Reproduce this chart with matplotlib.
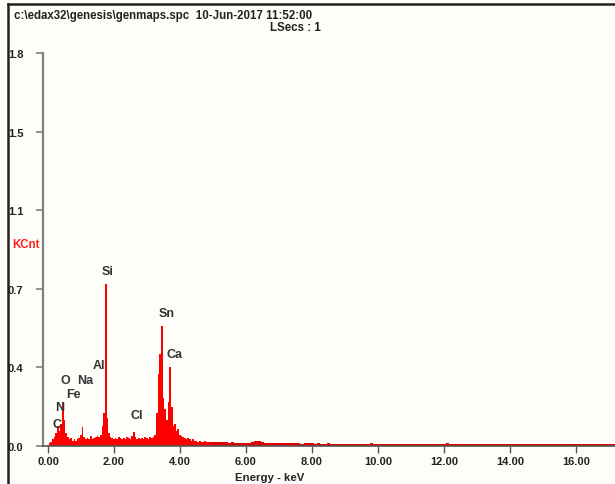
import numpy as np
import matplotlib
matplotlib.use('Agg')
import matplotlib.pyplot as plt
from matplotlib.lines import Line2D

plt.rcParams['font.family'] = ['Liberation Sans', 'DejaVu Sans']

# spectrum 0 - 5 keV, channel step 0.05 keV (KCnt)
low_step = 0.05
low_counts = [
    0.005, 0.015, 0.02, 0.03, 0.04, 0.06, 0.09, 0.07, 0.10, 0.20,
    0.12, 0.06, 0.04, 0.03, 0.035, 0.025, 0.03, 0.025, 0.03, 0.035,
    0.05, 0.085, 0.04, 0.03, 0.035, 0.03, 0.045, 0.03, 0.035, 0.04,
    0.045, 0.04, 0.05, 0.09, 0.15, 0.74, 0.13, 0.06, 0.04, 0.035,
    0.03, 0.035, 0.03, 0.04, 0.035, 0.03, 0.035, 0.03, 0.04, 0.035,
    0.03, 0.045, 0.065, 0.04, 0.03, 0.035, 0.03, 0.035, 0.03, 0.04,
    0.035, 0.03, 0.04, 0.035, 0.04, 0.05, 0.15, 0.33, 0.42, 0.55,
    0.22, 0.17, 0.12, 0.20, 0.36, 0.18, 0.09, 0.10, 0.07, 0.08,
    0.05, 0.045, 0.04, 0.035, 0.03, 0.035, 0.03, 0.025, 0.03, 0.025,
    0.025, 0.02, 0.025, 0.02, 0.02, 0.025, 0.02, 0.02, 0.02, 0.018,
]

# spectrum 5 - 17.4 keV, channel step 0.1 keV (KCnt)
tail_start = 5.0
tail_step = 0.1
tail_counts = [
    0.02, 0.018, 0.02, 0.017, 0.018, 0.016, 0.017, 0.015, 0.016, 0.015,
    0.016, 0.015, 0.02, 0.022, 0.025, 0.018, 0.015, 0.014, 0.015, 0.013,
    0.014, 0.013, 0.012, 0.013, 0.014, 0.012, 0.013, 0.011, 0.012, 0.013,
    0.012, 0.011, 0.012, 0.01, 0.011, 0.012, 0.01, 0.011, 0.01, 0.011,
    0.01, 0.011, 0.009, 0.01, 0.011, 0.01, 0.009, 0.01, 0.012, 0.01,
    0.009, 0.01, 0.008, 0.009, 0.008, 0.009, 0.008, 0.009, 0.01, 0.009,
    0.008, 0.009, 0.01, 0.008, 0.009, 0.008, 0.009, 0.008, 0.009, 0.008,
    0.009, 0.012, 0.009, 0.008, 0.009, 0.011, 0.01, 0.009, 0.011, 0.01,
    0.009, 0.01, 0.008, 0.009, 0.008, 0.009, 0.01, 0.008, 0.009, 0.008,
    0.009, 0.008, 0.01, 0.008, 0.009, 0.008, 0.007, 0.009, 0.008, 0.009,
    0.008, 0.009, 0.008, 0.007, 0.008, 0.009, 0.008, 0.007, 0.008, 0.009,
    0.008, 0.007, 0.008, 0.009, 0.008, 0.007, 0.008, 0.007, 0.008, 0.007,
    0.008, 0.007, 0.008, 0.007, 0.008,
]

peak_names = ['C', 'N', 'O', 'Fe', 'Na', 'Al', 'Si', 'Cl', 'Sn', 'Ca']
# label anchor (keV, KCnt) where the element names are printed
label_pos = [(0.27, 0.10), (0.37, 0.18), (0.52, 0.30), (0.77, 0.24),
             (1.13, 0.30), (1.56, 0.37), (1.80, 0.80), (2.70, 0.14),
             (3.60, 0.61), (3.83, 0.42)]

y_ticklabels = ['0.0', '0.4', '0.7', '1.1', '1.5', '1.8']
x_ticks = [0, 2, 4, 6, 8, 10, 12, 14, 16]

bg = '#fdfdf9'
fig = plt.figure(figsize=(6.15, 4.85), dpi=100, facecolor=bg)
ax = fig.add_axes([43 / 615, 38 / 485, 572 / 615, 393 / 485], facecolor=bg)

low_e = np.arange(len(low_counts)) * low_step
tail_e = tail_start + np.arange(len(tail_counts)) * tail_step
ax.bar(low_e, low_counts, width=low_step, color='#ff0000', linewidth=0, align='center')
ax.bar(tail_e, tail_counts, width=tail_step, color='#e00000', linewidth=0, align='center')

ax.set_xlim(-0.15, (615 - 48) / 33)
ax.set_ylim(0, 1.8)

for s in ['top', 'right']:
    ax.spines[s].set_visible(False)
ax.spines['left'].set_color('#808080')
ax.spines['left'].set_linewidth(1.6)
ax.spines['bottom'].set_color('#555555')
ax.spines['bottom'].set_linewidth(1.2)

ax.set_yticks(np.linspace(0, 1.8, len(y_ticklabels)))
ax.set_yticklabels(y_ticklabels)
ax.set_xticks(x_ticks)
ax.set_xticklabels(['%.2f' % v for v in x_ticks])
ax.tick_params(axis='y', length=5, width=1.2, color='#808080', pad=9,
               labelsize=8, labelcolor='#222222')
ax.tick_params(axis='x', length=5, width=1.0, color='#555555', pad=2,
               labelsize=8, labelcolor='#222222')
for lab in ax.get_xticklabels() + ax.get_yticklabels():
    lab.set_fontweight('bold')

ax.set_xlabel('Energy - keV', fontsize=8.2, fontweight='bold', color='#222222', labelpad=1)
ax.xaxis.set_label_coords((270 - 43) / 572, -0.065)

for name, (px, py) in zip(peak_names, label_pos):
    ax.text(px, py, name, ha='center', va='center', fontsize=9,
            fontweight='bold', color='#333333')

# header and unit text
fig.text(14 / 615, 1 - 16 / 485, 'c:\\edax32\\genesis\\genmaps.spc  10-Jun-2017 11:52:00',
         fontsize=8.3, fontweight='bold', color='#222222', va='center')
fig.text(270 / 615, 1 - 28 / 485, 'LSecs : 1', fontsize=8.3, fontweight='bold',
         color='#222222', va='center')
fig.text(12 / 615, 1 - 245 / 485, 'KCnt', fontsize=8.3, fontweight='bold',
         color='#ff2020', va='center')

# window frame
fig.add_artist(Line2D([8 / 615, 1], [1 - 5 / 485, 1 - 5 / 485], color='#222222', lw=1.8))
fig.add_artist(Line2D([8 / 615, 8 / 615], [0, 1 - 5 / 485], color='#222222', lw=1.8))

fig.savefig('out.png', dpi=100, facecolor=bg)
